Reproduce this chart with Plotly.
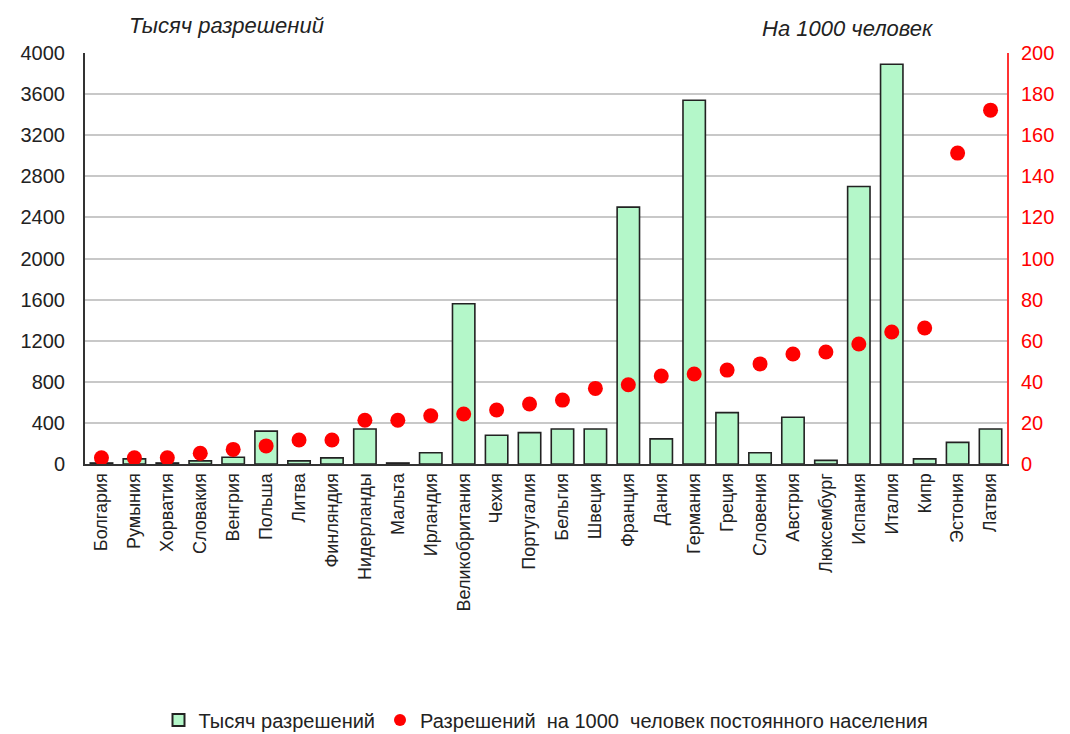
import plotly.graph_objects as go

countries = ["Болгария", "Румыния", "Хорватия", "Словакия", "Венгрия", "Польша", "Литва",
             "Финляндия", "Нидерланды", "Мальта", "Ирландия", "Великобритания", "Чехия",
             "Португалия", "Бельгия", "Швеция", "Франция", "Дания", "Германия", "Греция",
             "Словения", "Австрия", "Люксембург", "Испания", "Италия", "Кипр", "Эстония", "Латвия"]

permits_thousand = [10, 50, 10, 30, 65, 320, 30, 60, 340, 10, 110, 1560, 280, 305, 340, 340,
                    2500, 245, 3540, 500, 110, 455, 35, 2700, 3890, 50, 210, 340]

per_1000 = [3, 3, 3, 5.2, 7.1, 8.8, 11.7, 11.7, 21.3, 21.3, 23.5, 24.3, 26.3, 29.2, 31.1,
            36.8, 38.6, 42.8, 43.8, 45.7, 48.7, 53.5, 54.5, 58.4, 64.2, 66.2, 151.3, 172.2]

left_ticks = list(range(0, 4001, 400))
right_ticks = list(range(0, 201, 20))

font_family = "Liberation Sans, Arial, sans-serif"

fig = go.Figure()
fig.add_trace(go.Bar(
    x=countries, y=permits_thousand, name="Тысяч разрешений",
    marker=dict(color="#b4f7c9", line=dict(color="#222222", width=1.6)),
    yaxis="y",
))
fig.add_trace(go.Scatter(
    x=countries, y=per_1000, name="Разрешений  на 1000  человек постоянного населения",
    mode="markers", marker=dict(color="#ff0000", size=15),
    yaxis="y2",
))

fig.update_layout(
    width=1070, height=734,
    margin=dict(l=77, r=71, t=45, b=278, autoexpand=False),
    paper_bgcolor="white", plot_bgcolor="white",
    font=dict(family=font_family, size=16, color="#222222"),
    bargap=0.32,
    showlegend=True,
    legend=dict(orientation="h", x=0.5, xanchor="center", y=-0.623, yanchor="middle",
                font=dict(size=20, color="#222222"), itemsizing="constant",
                traceorder="normal", itemwidth=30),
    xaxis=dict(
        type="category", range=[-0.5, len(countries) - 0.5], automargin=False,
        tickangle=-90, showline=True, linecolor="#333333", linewidth=2,
        showgrid=False, ticks="", tickfont=dict(size=18, color="#222222"),
    ),
    yaxis=dict(
        range=[0, 4000], tickvals=left_ticks, showline=True, linecolor="#333333", linewidth=2,
        showgrid=True, gridcolor="#c8c8c8", gridwidth=1.5, ticks="", automargin=False,
        ticklabelstandoff=14,
        tickfont=dict(size=20, color="#222222"), zeroline=False,
    ),
    yaxis2=dict(
        range=[0, 200], tickvals=right_ticks, overlaying="y", side="right",
        showline=True, linecolor="#ff3333", linewidth=2, showgrid=False, ticks="",
        automargin=False, ticklabelstandoff=8,
        tickfont=dict(size=20, color="#ff0000"), zeroline=False,
    ),
    annotations=[
        dict(text="<i>Тысяч разрешений</i>", xref="paper", x=(226 - 85) / 922, yref="paper",
             y=1.0, yshift=28, xanchor="center", yanchor="middle", showarrow=False,
             font=dict(size=22, color="#222222")),
        dict(text="<i>На 1000 человек</i>", xref="paper", x=(848 - 85) / 922, yref="paper",
             y=1.0, yshift=25, xanchor="center", yanchor="middle", showarrow=False,
             font=dict(size=22, color="#222222")),
    ],
)

fig.write_html("out.html")
